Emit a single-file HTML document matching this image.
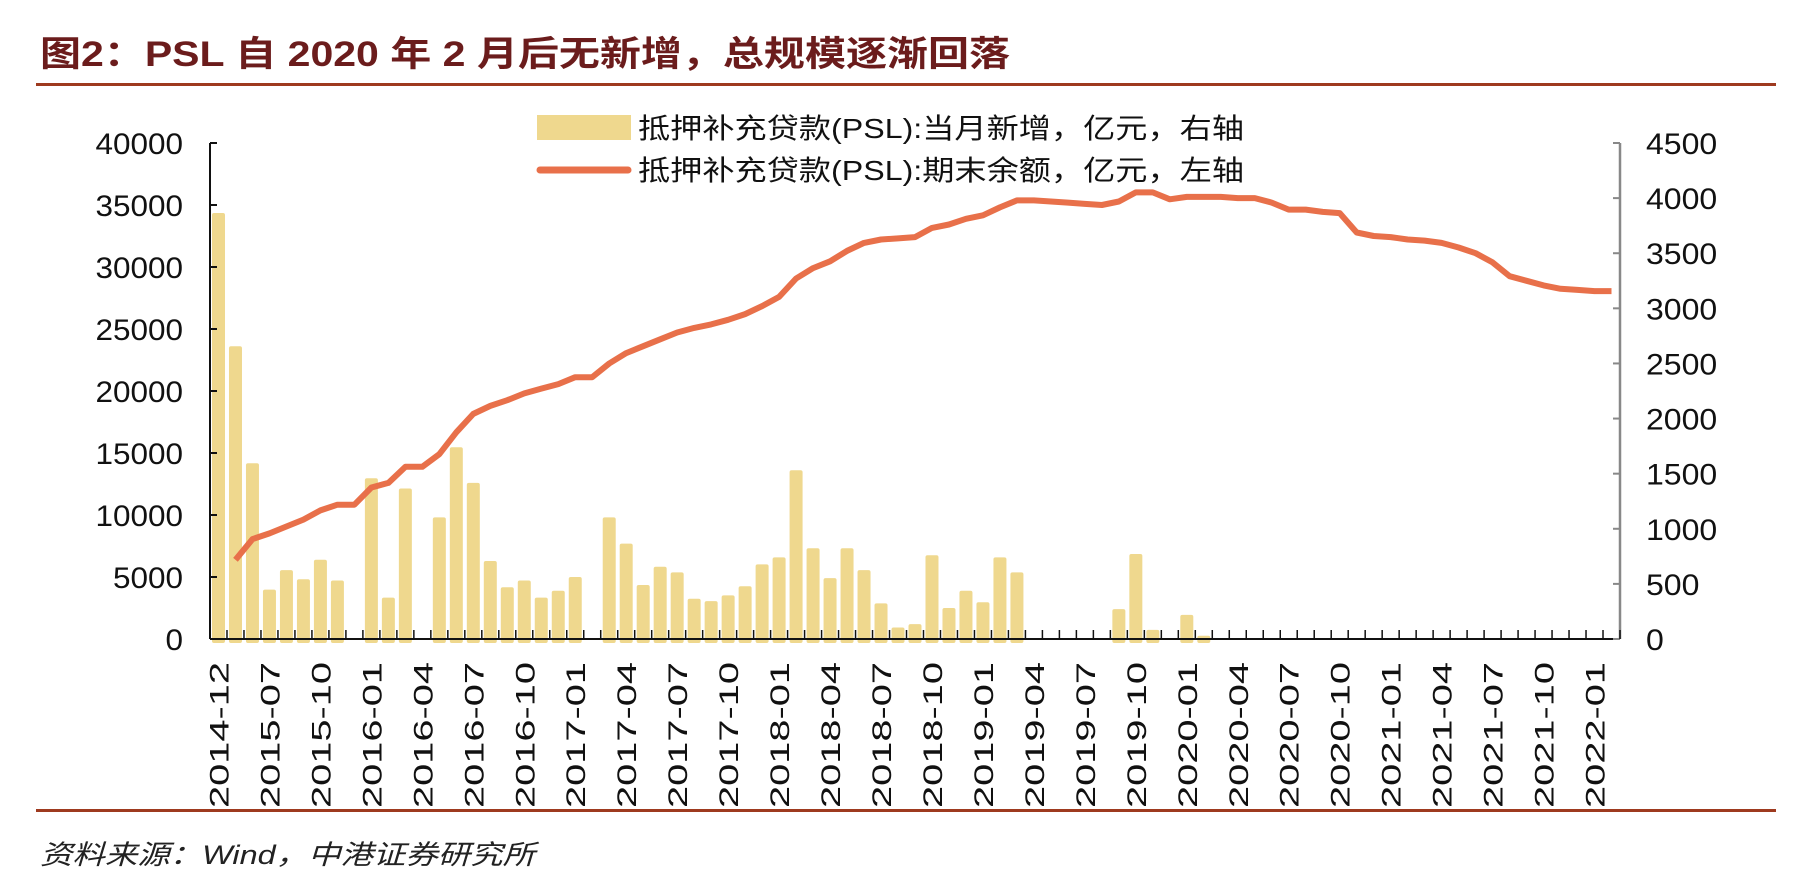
<!DOCTYPE html>
<html><head><meta charset="utf-8">
<style>
body{margin:0;background:#fff;width:1798px;height:894px;overflow:hidden;font-family:"Liberation Sans","Noto Sans CJK SC",sans-serif;}
svg{display:block}
</style></head>
<body>
<svg id="chart" width="1798" height="894" xmlns="http://www.w3.org/2000/svg">
<text x="40" y="66" font-size="35" font-weight="bold" fill="#6b1c1c" textLength="970" lengthAdjust="spacingAndGlyphs">图2：PSL 自 2020 年 2 月后无新增，总规模逐渐回落</text>
<rect x="36" y="83" width="1740" height="3" fill="#9e3a1f"/>
<rect x="36" y="809" width="1740" height="3" fill="#9e3a1f"/>
<text x="40" y="864" font-size="27" font-style="italic" fill="#222" textLength="495" lengthAdjust="spacingAndGlyphs">资料来源：Wind，中港证券研究所</text>
<g id="plot"></g>
<g>
<rect x="537" y="115" width="94" height="25" fill="#efd88e"/>
<text x="638" y="138" font-size="28" fill="#111" textLength="606" lengthAdjust="spacingAndGlyphs">抵押补充贷款(PSL):当月新增，亿元，右轴</text>
<line x1="540" y1="170" x2="628" y2="170" stroke="#e8704a" stroke-width="7" stroke-linecap="round"/>
<text x="638" y="180" font-size="28" fill="#111" textLength="606" lengthAdjust="spacingAndGlyphs">抵押补充贷款(PSL):期末余额，亿元，左轴</text>
</g>
</svg>
<script>
const categories=["2014-12","2015-05","2015-06"];
(function(){for(let y=2015;y<=2022;y++){for(let m=1;m<=12;m++){if(y===2015&&m<7)continue;if(y===2022&&m>2)break;categories.push(y+"-"+String(m).padStart(2,"0"));}}})();
const monthlyNew=[3865,2656,1594,448,625,542,719,531,0,1458,375,1365,0,1104,1740,1417,708,469,531,375,438,563,0,1104,865,490,656,604,365,344,396,479,677,740,1531,823,552,823,625,323,104,135,760,281,438,333,740,604,0,0,0,0,0,271,771,83,0,219,30,0,0,0,0,0,0,0,0,0,0,0,0,0,0,0,0,0,0,0,0,0,0,0,0];
const balance=[null,6390,8060,8520,9070,9630,10370,10830,10830,12220,12590,13890,13890,14900,16670,18150,18800,19260,19810,20190,20560,21110,21110,22220,23060,23610,24170,24720,25090,25370,25740,26200,26850,27590,29070,29910,30460,31300,31940,32220,32310,32410,33150,33430,33890,34170,34810,35370,35370,35280,35190,35090,35000,35280,36020,36020,35460,35650,35650,35650,35560,35560,35190,34630,34630,34440,34350,32780,32500,32410,32220,32130,31940,31570,31110,30370,29260,28890,28520,28240,28150,28060,28060];
const leftTicks=[0,5000,10000,15000,20000,25000,30000,35000,40000];
const rightTicks=[0,500,1000,1500,2000,2500,3000,3500,4000,4500];
const NS="http://www.w3.org/2000/svg";
const X0=210,X1=1620,Y0=639,YT=143;
const slot=(X1-X0)/categories.length;
const xc=i=>X0+slot*(i+0.5);
const yL=v=>Y0-(v/40000)*(Y0-YT);
const yR=v=>Y0-(v/4500)*(Y0-YT);
const g=document.getElementById("plot");
function mk(t,a){const e=document.createElementNS(NS,t);for(const k in a)e.setAttribute(k,a[k]);g.appendChild(e);return e;}
monthlyNew.forEach((v,i)=>{if(!v)return;const y=yR(v);
const r=mk("rect",{x:xc(i)-6.5,y:y,width:13,height:Y0-y+4,fill:"#efd88e",rx:2});

});
let d="";balance.forEach((v,i)=>{if(v==null)return;d+=(d?"L":"M")+xc(i).toFixed(1)+","+yL(v).toFixed(1);});
const ln=mk("path",{d:d,fill:"none",stroke:"#e8704a","stroke-width":6,"stroke-linejoin":"round"});


const la=mk("line",{x1:X0,y1:YT,x2:X0,y2:Y0,stroke:"#111","stroke-width":2});


const ra=mk("line",{x1:X1,y1:YT,x2:X1,y2:Y0,stroke:"#888","stroke-width":2.5});


const xa=mk("line",{x1:X0,y1:Y0,x2:X1,y2:Y0,stroke:"#111","stroke-width":2});


leftTicks.forEach(v=>{const y=yL(v);mk("line",{x1:X0,y1:y,x2:X0+7,y2:y,stroke:"#111","stroke-width":2});
const s=String(v);
const t=mk("text",{x:X0-27,y:y+11,"font-size":30,"text-anchor":"end",fill:"#111",textLength:s.length*17.5,lengthAdjust:"spacingAndGlyphs"});t.textContent=s;

});
rightTicks.forEach(v=>{const y=yR(v);mk("line",{x1:X1-7,y1:y,x2:X1,y2:y,stroke:"#888","stroke-width":2});
const s=String(v);
const t=mk("text",{x:X1+26,y:y+11,"font-size":30,fill:"#111",textLength:s.length*17.8,lengthAdjust:"spacingAndGlyphs"});t.textContent=s;

});
for(let i=0;i<=categories.length;i++){const x=X0+slot*i;mk("line",{x1:x,y1:Y0,x2:x,y2:Y0-9,stroke:"#111","stroke-width":1.5});}
categories.forEach((c,i)=>{if(i%3)return;const x=xc(i);
const t=mk("text",{x:0,y:0,"font-size":27,"text-anchor":"end",fill:"#111",textLength:146,lengthAdjust:"spacingAndGlyphs",transform:`translate(${x+10},${Y0+23}) rotate(-90)`});t.textContent=c;

});
</script>
</body></html>
